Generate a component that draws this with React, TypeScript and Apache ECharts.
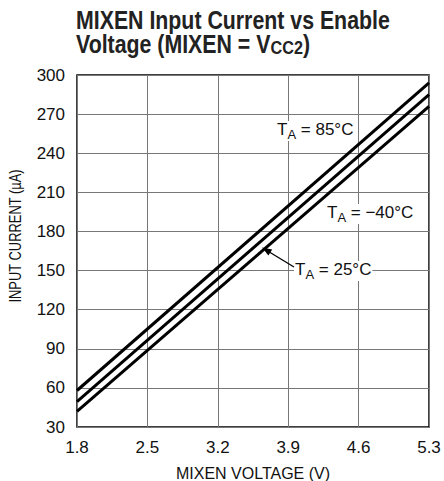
import React, { useEffect, useRef } from "react";
import * as echarts from "echarts";

const voltage = [1.8, 5.3];
const current85 = [58, 294];
const current25 = [49.5, 285];
const currentM40 = [42, 276];
const xTicks = { min: 1.8, max: 5.3, interval: 0.7 };
const yTicks = { min: 30, max: 300, interval: 30 };

const FONT = "'Liberation Sans', Arial, sans-serif";

const pairs = (ys: number[]) => voltage.map((v, i) => [v, ys[i]]);

export default function App() {
  const ref = useRef<HTMLDivElement>(null);
  useEffect(() => {
    if (!ref.current) return;
    const chart = echarts.init(ref.current, undefined, { renderer: "svg" });
    const lineSeries = (name: string, ys: number[]) => ({
      type: "line",
      name,
      data: pairs(ys),
      showSymbol: false,
      lineStyle: { color: "#000", width: 3 },
    });
    const labelBox = (x: number, y: number, temp: string) => ({
      type: "text",
      x,
      y,
      z: 100,
      style: {
        text: `{t|T}{s|A}{t| = ${temp}}`,
        rich: {
          t: { fontSize: 17, lineHeight: 20, verticalAlign: "top", padding: [0, 0, 3, 0], fontFamily: FONT, fill: "#111" },
          s: { fontSize: 13, lineHeight: 13, verticalAlign: "bottom", fontFamily: FONT, fill: "#111" },
        },
        backgroundColor: "#fff",
        padding: [0, 1, 0, 1],
      },
    });
    const titleRich = {
      b: { fontSize: 25, fontWeight: "bold", fontFamily: FONT, fill: "#222", lineHeight: 25, verticalAlign: "top", padding: [0, 0, 7, 0] },
      c: { fontSize: 19, fontWeight: "bold", fontFamily: FONT, fill: "#222", lineHeight: 19, verticalAlign: "bottom" },
    };
    chart.setOption({
      animation: false,
      grid: {
        left: 77, right: 15, top: 75, bottom: 54,
        show: true, borderColor: "#000", borderWidth: 1.5,
        containLabel: false, outerBoundsMode: "none",
      },
      xAxis: {
        type: "value",
        min: xTicks.min,
        max: xTicks.max,
        interval: xTicks.interval,
        name: "MIXEN VOLTAGE (V)",
        nameLocation: "middle",
        nameGap: 38,
        nameTextStyle: { fontFamily: FONT, fontSize: 16, color: "#111" },
        axisLine: { show: false },
        axisTick: { show: false },
        axisLabel: { fontFamily: FONT, fontSize: 17, color: "#111", margin: 12, formatter: (v: number) => v.toFixed(1) },
        splitLine: { show: true, lineStyle: { color: "#777", width: 1 } },
      },
      yAxis: {
        type: "value",
        min: yTicks.min,
        max: yTicks.max,
        interval: yTicks.interval,
        axisLine: { show: false },
        axisTick: { show: false },
        axisLabel: { fontFamily: FONT, fontSize: 17, color: "#111", margin: 12 },
        splitLine: { show: true, lineStyle: { color: "#777", width: 1 } },
      },
      series: [
        lineSeries("TA = 85°C", current85),
        lineSeries("TA = 25°C", current25),
        lineSeries("TA = -40°C", currentM40),
      ],
      graphic: [
        {
          type: "text",
          x: 76,
          y: 8,
          scaleX: 0.853,
          style: { text: "{b|MIXEN Input Current vs Enable}", rich: titleRich },
        },
        {
          type: "text",
          x: 76,
          y: 32,
          scaleX: 0.853,
          style: { text: "{b|Voltage (MIXEN = V}{c|CC2}{b|)}", rich: titleRich },
        },
        {
          type: "text",
          x: 15,
          y: 236,
          rotation: Math.PI / 2,
          scaleX: 0.76,
          style: {
            text: "INPUT CURRENT (µA)",
            fontFamily: FONT,
            fontSize: 17,
            fill: "#111",
            align: "center",
            verticalAlign: "middle",
          },
        },
        labelBox(276, 121, "85°C"),
        labelBox(326, 204, "−40°C"),
        labelBox(294, 261, "25°C"),
        {
          type: "line",
          z: 100,
          shape: { x1: 294, y1: 267, x2: 266, y2: 250 },
          style: { stroke: "#000", lineWidth: 1.3 },
        },
        {
          type: "polygon",
          z: 100,
          shape: { points: [[262, 247.5], [272.2, 249.6], [268.4, 255.6]] },
          style: { fill: "#000" },
        },
      ],
    });
    return () => chart.dispose();
  }, []);
  return <div ref={ref} style={{ width: 444, height: 481, position: "absolute", left: 0, top: 0 }} />;
}
